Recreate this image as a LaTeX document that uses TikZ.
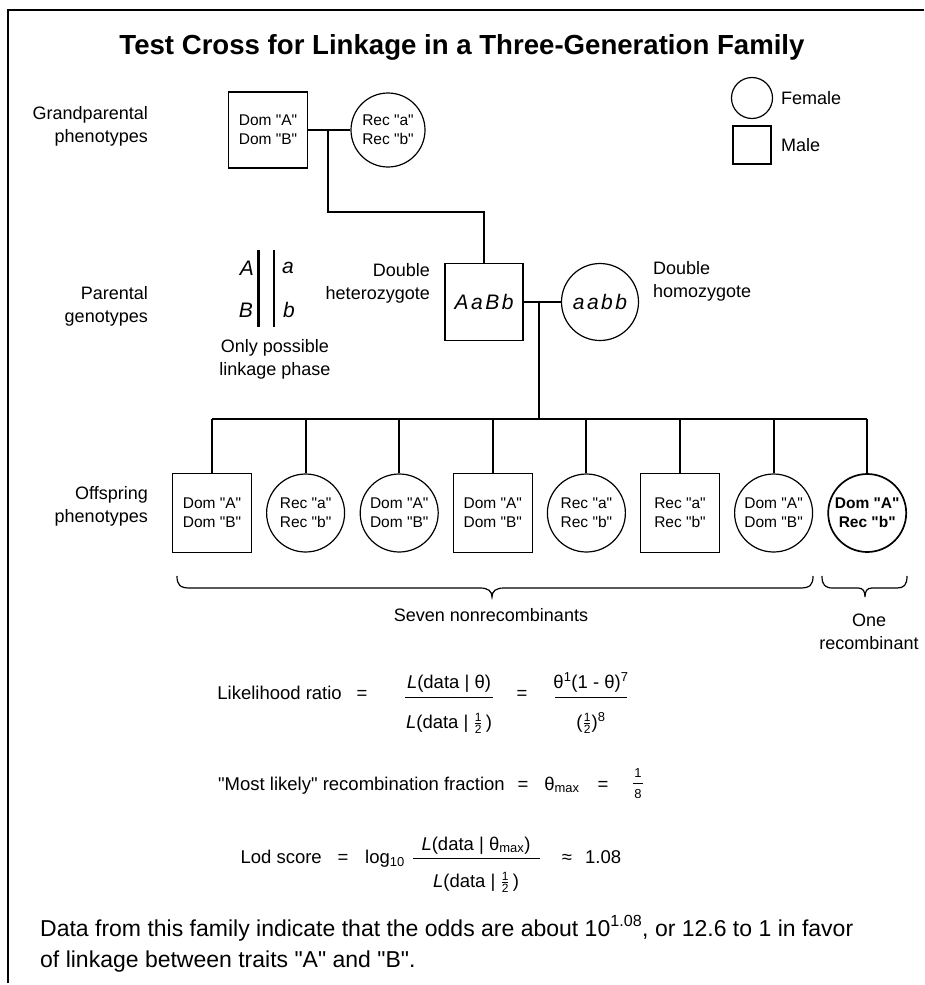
\documentclass[tikz,border=0pt]{standalone}
\usepackage{fontspec}
\setmainfont{Liberation Sans}
\newfontfamily\lsans{Liberation Sans}
\newcommand\hf{\ensuremath{{\mbox{\lsans\fontsize{12}{12}\selectfont 1}\above 0.6pt\mbox{\lsans\fontsize{12}{12}\selectfont 2}}}}
\begin{document}
\begin{tikzpicture}[x=1pt,y=-1pt,
  lab/.style={font=\lsans\fontsize{18}{23}\selectfont, inner sep=0pt},
  txt/.style={font=\lsans\fontsize{18.5}{22}\selectfont, inner sep=0pt, anchor=base},
  male/.style={draw, line width=1.2pt, minimum width=79pt, minimum height=79pt, inner sep=0pt, align=center, font=\lsans\fontsize{15.5}{19}\selectfont},
  female/.style={draw, circle, line width=1.2pt, minimum size=78pt, inner sep=0pt, align=center, font=\lsans\fontsize{15.5}{19}\selectfont},
  geno/.style={font=\lsans\itshape\fontsize{21}{21}\selectfont, inner sep=0pt},
  link/.style={line width=2pt},
  fbar/.style={line width=1pt},
  ]
\useasboundingbox (0,0) rectangle (924,985);
% frame
\draw[line width=1.5pt] (8,983) -- (8,10) -- (924,10);
% title
\node[font=\lsans\bfseries\fontsize{27.6}{30}\selectfont, anchor=base, inner sep=0pt] (title) at (462,54) {Test Cross for Linkage in a Three-Generation Family};
% legend
\node[female, minimum size=41pt] (lf) at (752,98) {};
\node[lab, anchor=west] (lft) at (781,98) {Female};
\node[male, minimum width=38pt, minimum height=38pt] (lm) at (752,145) {};
\node[lab, anchor=west] (lmt) at (781,145) {Male};
% row labels
\node[lab, align=right, anchor=east] (lgp) at (148,126) {Grandparental\\phenotypes};
\node[lab, align=right, anchor=east] (lpg) at (148,306) {Parental\\genotypes};
\node[lab, align=right, anchor=east] (lop) at (148,506) {Offspring\\phenotypes};
% grandparents
\node[male, minimum width=79pt, minimum height=76pt] (gpm) at (268,130) {Dom "A"\\Dom "B"};
\node[female, minimum size=74pt] (gpf) at (388,130) {Rec "a"\\Rec "b"};
\draw[link] (gpm.east) -- (gpf.west);
\coordinate (gpd) at (328,130);
% parents
\node[male, minimum width=78pt, minimum height=77pt, font=\lsans\itshape\fontsize{21}{21}\selectfont] (P) at (484,302) {A\kern2.5pt a\kern2.5pt B\kern2.5pt b};
\node[female, minimum size=77pt, font=\lsans\itshape\fontsize{21}{21}\selectfont] (M) at (600,302) {a\kern2.5pt a\kern2.5pt b\kern2.5pt b};
\draw[link] (gpd) -- ++(0,82) -| (P.north);
\draw[link] (P.east) -- (M.west);
\node[lab, align=right, anchor=east] (dhe) at (430,283) {Double\\heterozygote};
\node[lab, align=left, anchor=west] (dho) at (653,281) {Double\\homozygote};
% linkage phase
\node[geno] (gA) at (247,268) {A};
\node[geno] (gB) at (246,310) {B};
\node[geno] (ga) at (288,268) {a};
\node[geno] (gb) at (289,310) {b};
\draw[line width=3pt] (258,250) -- (258,327);
\draw[line width=2pt] (274,250) -- (274,327);
\node[lab, align=center] (olp) at (275,359) {Only possible\\linkage phase};
% offspring
\node[male] (c1) at (212,513) {Dom "A"\\Dom "B"};
\node[female] (c2) at (305.6,513) {Rec "a"\\Rec "b"};
\node[female] (c3) at (399.2,513) {Dom "A"\\Dom "B"};
\node[male] (c4) at (492.8,513) {Dom "A"\\Dom "B"};
\node[female] (c5) at (586.4,513) {Rec "a"\\Rec "b"};
\node[male] (c6) at (680,513) {Rec "a"\\Rec "b"};
\node[female] (c7) at (773.6,513) {Dom "A"\\Dom "B"};
\node[female, line width=1.7pt, font=\lsans\bfseries\fontsize{15.5}{19}\selectfont] (c8) at (867.2,513) {Dom "A"\\Rec "b"};
\coordinate (pd) at (539,302);
\coordinate (sib) at (539,419);
\draw[link] (pd) -- (sib);
\draw[link] (c1.north |- sib) -- (c8.north |- sib);
\foreach \i in {1,...,8}{\draw[link] (c\i.north |- sib) -- (c\i.north);}
% braces
\draw[line width=1.2pt] (177,576) .. controls (177,585) and (180,588) .. (190,588) -- (480,588) .. controls (488,588) and (492,591) .. (492,597) .. controls (492,591) and (496,588) .. (504,588) -- (800,588) .. controls (810,588) and (813,585) .. (813,576);
\draw[line width=1.2pt] (822,576) .. controls (822,585) and (825,588) .. (833,588) -- (858,588) .. controls (863,588) and (865,591) .. (865,597) .. controls (865,591) and (867,588) .. (872,588) -- (897,588) .. controls (904,588) and (907,585) .. (907,576);
\node[lab] (seven) at (491,615) {Seven nonrecombinants};
\node[lab, align=center] (one) at (869,632) {One\\recombinant};
% likelihood ratio
\node[txt, anchor=base east] (lr) at (342,699) {Likelihood ratio};
\node[txt] (eq1) at (362,699) {=};
\node[txt] (n1) at (449,688) {\textit{L}(data | θ)};
\node[txt] (d1) at (449,728) {\textit{L}(data | \hf\,)};
\draw[fbar] (405,697) -- (493,697);
\node[txt] (eq2) at (522,699) {=};
\node[txt] (n2) at (591,688) {θ\textsuperscript{1}(1 - θ)\textsuperscript{7}};
\node[txt] (d2) at (591,728) {(\hf)\textsuperscript{8}};
\draw[fbar] (555,697) -- (627,697);
% most likely
\node[txt, anchor=base east] (ml) at (505,790) {"Most likely" recombination fraction};
\node[txt] (eq3) at (523,790) {=};
\node[txt] (tm) at (562,790) {θ\textsubscript{max}};
\node[txt] (eq4) at (603,790) {=};
\node[txt, font=\lsans\fontsize{13}{13}\selectfont] (o1) at (638,777) {1};
\node[txt, font=\lsans\fontsize{13}{13}\selectfont] (o8) at (638,798) {8};
\draw[line width=0.8pt] (633,783) -- (643,783);
% lod score
\node[txt, anchor=base east] (lod) at (322,863) {Lod score};
\node[txt] (eq5) at (343,863) {=};
\node[txt, anchor=base west] (lg) at (365,863) {log\textsubscript{10}};
\node[txt] (n3) at (476,850) {\textit{L}(data | θ\textsubscript{max})};
\node[txt] (d3) at (476,887) {\textit{L}(data | \hf\,)};
\draw[fbar] (413,858) -- (540,858);
\node[txt] (apx) at (567,863) {≈};
\node[txt, anchor=base west] (val) at (585,863) {1.08};
% bottom text
\node[anchor=base west, inner sep=0pt, font=\lsans\fontsize{23}{30}\selectfont] (b1) at (40,936) {Data from this family indicate that the odds are about 10\textsuperscript{1.08}, or 12.6 to 1 in favor};
\node[anchor=base west, inner sep=0pt, font=\lsans\fontsize{23}{30}\selectfont] (b2) at (40,967) {of linkage between traits "A" and "B".};
\end{tikzpicture}
\end{document}
